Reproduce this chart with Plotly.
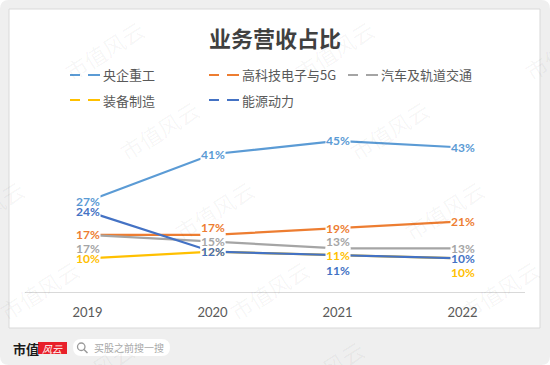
import plotly.graph_objects as go

# ---------------- data ----------------
years = ["2019", "2020", "2021", "2022"]
series_names = ["央企重工", "高科技电子与5G", "汽车及轨道交通", "装备制造", "能源动力"]
yangqi_zhonggong = [27, 41, 45, 43]
gaokeji_5g = [17, 17, 19, 21]
qiche_guidao = [17, 15, 13, 13]
zhuangbei_zhizao = [10, 12, 11, 10]
nengyuan_dongli = [24, 12, 11, 10]
title_text = "业务营收占比"

# ---------------- styles ----------------
colors = ["#5B9BD5", "#ED7D31", "#A5A5A5", "#FFC000", "#4472C4"]
# label vertical offsets in px (positive = down), per series per year
label_offsets = [
    [0, 0, 0, 0],
    [0, -7, 0, 0],
    [14, 0, -7, 0],
    [0, 0, 0, 14],
    [0, 0, 15, 0],
]

W, H = 550, 365
L, R, T, B = 25, 525, 124, 292
Y_MAX = 50


def px(x):
    return (x - L) / (R - L)


def py(y):
    return (B - y) / (B - T)


def rrect_path(x0, y0, x1, y1, r):
    pts = [
        ("M", [(x0 + r, y0)]),
        ("L", [(x1 - r, y0)]),
        ("Q", [(x1, y0), (x1, y0 + r)]),
        ("L", [(x1, y1 - r)]),
        ("Q", [(x1, y1), (x1 - r, y1)]),
        ("L", [(x0 + r, y1)]),
        ("Q", [(x0, y1), (x0, y1 - r)]),
        ("L", [(x0, y0 + r)]),
        ("Q", [(x0, y0), (x0 + r, y0)]),
    ]
    s = ""
    for cmd, ps in pts:
        s += cmd + " " + " ".join(f"{px(a):.5f},{py(b):.5f}" for a, b in ps) + " "
    return s + "Z"


def note(x, y, text, font, xanchor="center", yanchor="middle", **kw):
    return dict(x=px(x), y=py(y), xref="paper", yref="paper", text=text,
                showarrow=False, xanchor=xanchor, yanchor=yanchor, font=font, **kw)


all_series = [yangqi_zhonggong, gaokeji_5g, qiche_guidao, zhuangbei_zhizao, nengyuan_dongli]

fig = go.Figure()
for name, vals, col in zip(series_names, all_series, colors):
    fig.add_trace(go.Scatter(
        x=years, y=vals, mode="lines", name=name,
        line=dict(color=col, width=2.2),
        showlegend=False, hoverinfo="skip",
    ))

shapes = []
annotations = []

# background: rounded gray frame and white card
shapes.append(dict(type="path", xref="paper", yref="paper", layer="below",
                   path=rrect_path(0, 0, 550, 365, 9),
                   fillcolor="#EFEFEF", line=dict(width=0)))
shapes.append(dict(type="rect", xref="paper", yref="paper", layer="below",
                   x0=px(9), x1=px(540), y0=py(9), y1=py(328),
                   fillcolor="white", line=dict(color="#D9D9D9", width=1)))

# faint watermarks
for i in range(-2, 4):
    for j in range(-3, 4):
        cx = 159 + 230 * i + 55 * j
        cy = 130 + 80 * j
        if -60 < cx < 610 and -40 < cy < 400:
            annotations.append(note(cx, cy, "市值风云",
                                    dict(family="Noto Sans CJK SC", size=22,
                                         color="rgba(0,0,0,0.045)"),
                                    textangle=-32))

# data labels: pass 1 white backgrounds, pass 2 coloured text
for pass_no in (1, 2):
    for s_idx, (vals, col) in enumerate(zip(all_series, colors)):
        for i, v in enumerate(vals):
            annotations.append(dict(
                x=i, y=v, xref="x", yref="y", text=f"<b>{v}%</b>", showarrow=False,
                xanchor="center", yanchor="middle",
                yshift=-label_offsets[s_idx][i],
                font=dict(family="Lato, Noto Sans", size=12,
                          color="white" if pass_no == 1 else col),
                bgcolor="white" if pass_no == 1 else "rgba(0,0,0,0)",
                borderpad=0,
            ))

# title
annotations.append(note(275, 37, f"<b>{title_text}</b>",
                        dict(family="Noto Sans CJK SC", size=22, color="#404040")))

# legend (manual)
legend_pos = [(70, 75), (209, 75), (348, 75), (70, 100), (209, 100)]
for name, col, (lx, ly) in zip(series_names, colors, legend_pos):
    for a, b in [(0, 10), (18, 30)]:
        shapes.append(dict(type="line", xref="paper", yref="paper",
                           x0=px(lx + a), x1=px(lx + b), y0=py(ly), y1=py(ly),
                           line=dict(color=col, width=2)))
    annotations.append(note(lx + 31, ly, name,
                            dict(family="Noto Sans CJK SC", size=13, color="#595959"),
                            xanchor="left"))

# footer logo and search pill
annotations.append(note(11, 348, "<b>市值</b>",
                        dict(family="Noto Sans CJK SC", size=13, color="#1A1A1A"),
                        xanchor="left"))
shapes.append(dict(type="rect", xref="paper", yref="paper",
                   x0=px(38), x1=px(67), y0=py(342), y1=py(354),
                   fillcolor="#E8202A", line=dict(width=0)))
annotations.append(note(52.5, 348, "<i>风云</i>",
                        dict(family="Noto Sans CJK SC", size=10, color="white")))
shapes.append(dict(type="path", xref="paper", yref="paper",
                   path=rrect_path(73, 339, 170, 356, 8.5),
                   fillcolor="white", line=dict(width=0)))
shapes.append(dict(type="circle", xref="paper", yref="paper",
                   x0=px(77.5), x1=px(85), y0=py(343), y1=py(350.5),
                   line=dict(color="#9A9A9A", width=1.3)))
shapes.append(dict(type="line", xref="paper", yref="paper",
                   x0=px(84), x1=px(87.5), y0=py(349.5), y1=py(353),
                   line=dict(color="#9A9A9A", width=1.5)))
annotations.append(note(92, 347.5, "买股之前搜一搜",
                        dict(family="Noto Sans CJK SC", size=10, color="#A8A8A8"),
                        xanchor="left"))

fig.update_layout(
    width=W, height=H, autosize=False,
    margin=dict(l=L, r=W - R, t=T, b=H - B, pad=0),
    paper_bgcolor="white", plot_bgcolor="rgba(0,0,0,0)",
    shapes=shapes, annotations=annotations,
    showlegend=False,
    xaxis=dict(type="category", range=[-0.5, 3.5], showline=True, linecolor="#D9D9D9",
               linewidth=1.3, showgrid=False, zeroline=False, ticks="",
               ticklabelstandoff=8,
               tickfont=dict(family="Lato, Noto Sans", size=13, color="#595959"),
               fixedrange=True),
    yaxis=dict(range=[0, Y_MAX], visible=False, fixedrange=True),
)

fig.write_html("out.html", config={"displayModeBar": False},
               post_script="document.body.style.margin='0';document.body.style.overflow='hidden';")
